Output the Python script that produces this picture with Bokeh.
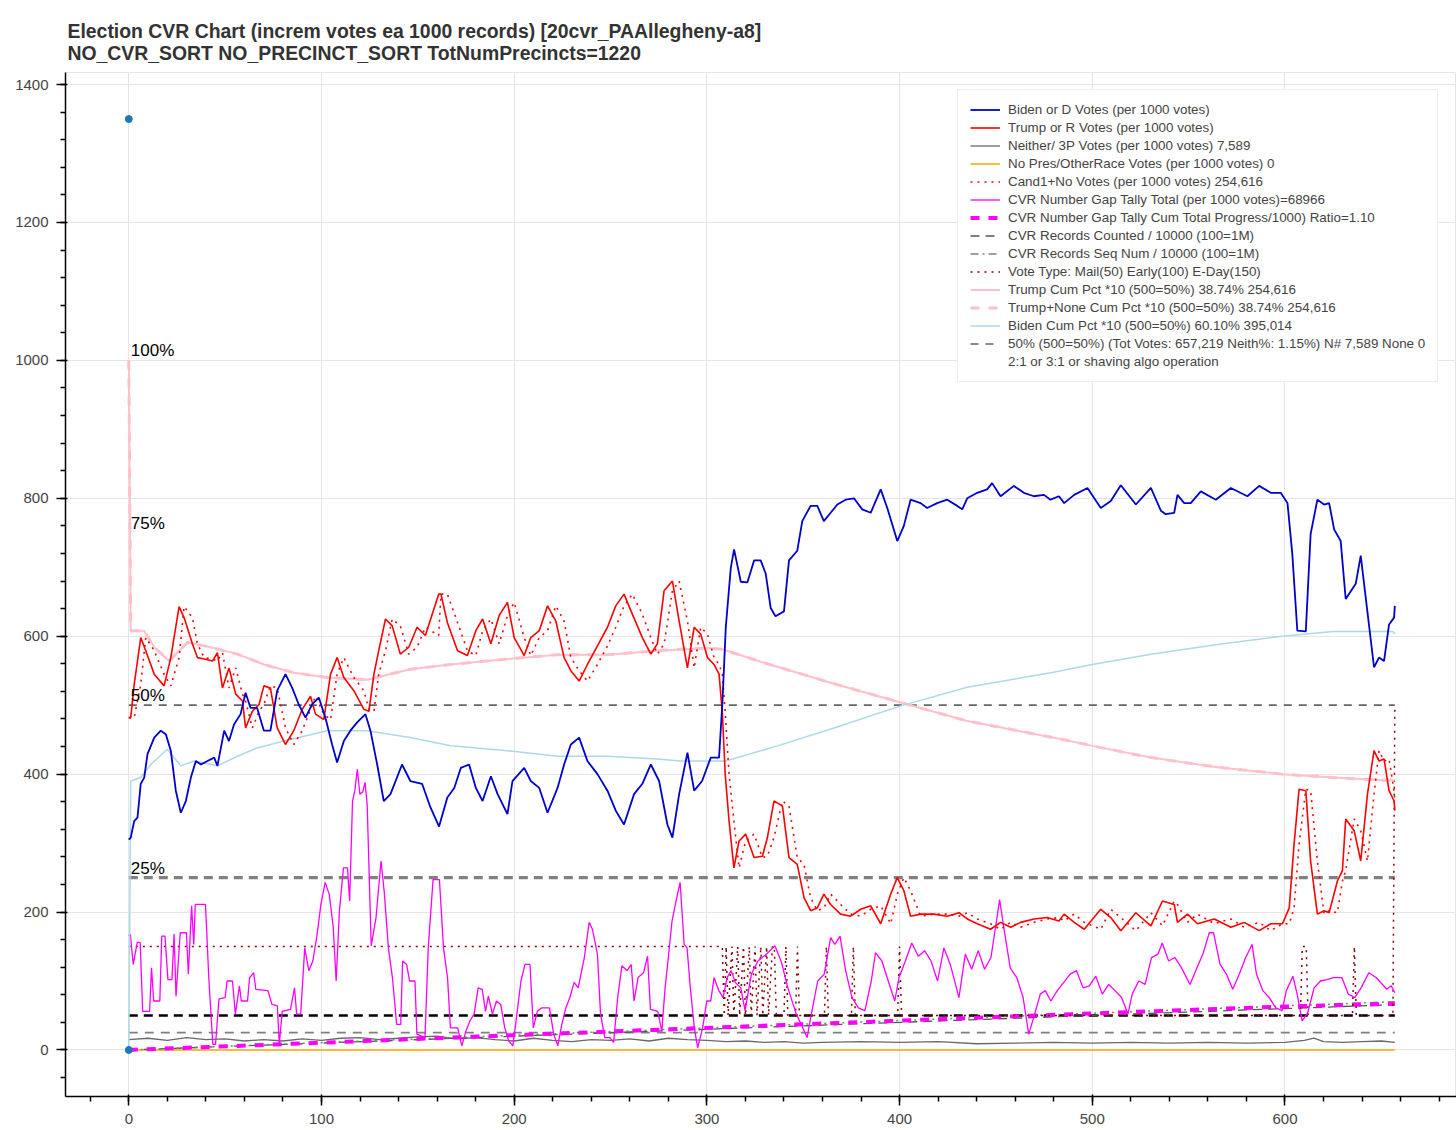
from bokeh.plotting import figure
from bokeh.models import Range1d, Legend, LegendItem
from bokeh.embed import file_html
from bokeh.resources import INLINE
from bokeh.core.properties import value

FONT = "Liberation Sans"

title_text = ("Election CVR Chart (increm votes ea 1000 records) [20cvr_PAAllegheny-a8]\n"
              " NO_CVR_SORT  NO_PRECINCT_SORT  TotNumPrecincts=1220")

# ---------------- data ----------------
biden_pts = [(0,305),(1,308),(2.8,332),(4.5,337),(6.2,386),(8,395),(9.7,429),(13.2,453),(16.6,463),(19.2,458),
 (21.8,434),(24.4,376),(27,344),(29.6,361),(32.2,395),(34.8,419),(37.4,414),(40.8,419),(44.3,424),(46,412),
 (49.5,463),(52,448),(54.6,472),(58,487),(60.6,518),(63.2,496),(66.6,496),(70.1,463),(73.5,463),(77,521),
 (81.3,545),(84.8,525),(88.2,501),(91.7,482),(95.1,501),(98.6,511),(102,482),(105.5,443),(108.1,417),(111.6,448),
 (115,463),(118.5,475),(122.8,487),(125.4,463),(128.9,414),(132.3,361),(135.8,371),(141.8,414),(146.1,390),(152.2,386),
 (156.5,352),(161,324),(165.3,366),(168.9,380),(172.3,409),(176.6,414),(180.1,380),(183.6,361),(187.9,397),(191.4,371),
 (196.5,342),(199.1,390),(205.2,409),(208.6,390),(213,380),(217.3,344),(222.5,380),(225.9,414),(229.4,443),(233.7,453),
 (238,419),(243.2,400),(248.4,376),(252.7,347),(257,327),(262.2,371),(266.5,386),(270.9,414),(275.2,390),(279.5,327),
 (282.1,308),(285.6,371),(289.9,431),(293.4,376),(297.5,390),(302,424),(306.3,424),(308.1,506),(309.8,613),(312.4,699),
 (314.1,726),(317.6,679),(321,678),(324.5,710),(327.9,710),(330.5,691),(333.1,641),(335.6,629),(340,636),(342.6,710),
 (346.9,724),(349.5,767),(353.8,789),(357.3,789),(360.7,767),(364.2,779),(367.7,791),(372,798),(376.3,800),(380.6,784),
 (385,779),(390.2,813),(393.6,786),(398.8,738),(402.2,760),(405.7,798),(410.9,793),(414.3,786),(419.5,793),(424.7,798),
 (429.9,789),(432.5,784),(435.1,800),(440.3,808),(445.4,813),(448,822),(452.4,803),(459.3,818),(464.5,808),(469.7,803),
 (474.9,805),(478.3,798),(482.7,803),(485.4,793),(490.6,805),(497.5,815),(504.4,786),(509.6,796),(514.8,819),(522.6,791),
 (530.4,815),(535.6,782),(538.1,777),(542.5,779),(544.2,805),(547.7,793),(551.1,793),(556.3,810),(564.1,798),(571.9,815),
 (580.5,803),(586.6,818),(592.6,808),(597.8,808),(601.3,793),(603.8,719),(606.4,608),(610.8,607),(613.3,748),(616.8,798),
 (620.3,791),(622.9,793),(625.5,755),(628.9,738),(631.5,654),(636.7,676),(639.3,717),(646.2,555),(648.8,569),(651.4,564),
 (654,617),(656.6,627),(657,644)]

trump_pts = [(0,482),(1,482),(2.8,530),(6.2,598),(8.8,579),(13.2,545),(18.3,528),(21.8,569),(26.1,643),(28.7,627),
 (33,589),(35.6,569),(39.1,567),(43.4,564),(46,576),(48.6,525),(52,554),(55.5,516),(59,506),(60.6,467),
 (64.1,491),(67.6,501),(70.1,528),(73.5,525),(77,467),(81.3,443),(85.6,463),(90,494),(94.3,513),(96.9,487),
 (101.2,479),(104.7,545),(108.1,569),(111.6,540),(116.8,521),(122,494),(124.6,491),(127.2,545),(129.7,579),(133.2,625),
 (136.7,615),(140.9,574),(145.3,584),(149.6,613),(153.9,601),(160.8,661),(162,661),(165.3,620),(170.6,579),(175.7,572),
 (180.1,608),(183.6,625),(187.9,589),(192.2,630),(196.5,649),(200,598),(205.2,572),(208.6,598),(213,608),(217.3,644),
 (221.6,622),(225.9,569),(229.4,550),(233.7,535),(238,559),(243.2,586),(248.4,613),(252.7,644),(257,661),(261.3,632),
 (266.5,598),(270.9,574),(274.3,589),(277.8,666),(282.1,680),(285.6,622),(289.9,554),(293.4,613),(296.8,603),(300.3,569),
 (303.7,559),(306.3,545),(308,490),(309.5,400),(311.5,332),(314,264),(316.7,303),(320.1,313),(324.5,279),(328.8,281),
 (331.4,308),(334.8,361),(339.2,354),(342.6,279),(346.9,269),(350.4,221),(353.8,202),(357.3,206),(360.7,226),(364.2,211),
 (369.4,197),(374.6,194),(379.8,204),(385,209),(390.2,183),(395.4,226),(398.8,250),(402.2,231),(405.7,194),(410.9,197),
 (417.8,197),(424.7,194),(430.8,199),(435.1,190),(440.3,183),(447.2,175),(452.4,185),(457.6,178),(462.8,185),(469.7,190),
 (476.6,192),(482.7,187),(485.4,197),(490.6,185),(495.8,175),(504.4,204),(509.6,192),(514.8,173),(522.6,199),(530.4,180),
 (536.4,216),(542.5,211),(544.2,185),(549.4,197),(554.6,183),(563.3,190),(571.9,178),(578.8,185),(586.6,173),(592.6,183),
 (598.7,183),(602.2,206),(604.7,298),(607.3,378),(610.8,376),(613.3,274),(616.8,197),(620.3,202),(622.9,199),(627.2,245),
 (629.8,260),(631.5,335),(635.9,318),(639.3,274),(642.8,371),(646.2,434),(648.8,419),(651.4,422),(654,376),(656.6,361),
 (657,347)]

cand_pts = [(0,482),(1,482),(2.8,482),(6.2,530),(8.8,598),(13.2,579),(18.3,545),(21.8,528),(26.1,569),(28.7,643),
 (33,627),(35.6,589),(39.1,569),(43.4,567),(46,564),(48.6,576),(52,525),(55.5,554),(59,516),(60.6,506),
 (64.1,467),(67.6,491),(70.1,501),(73.5,528),(77,525),(81.3,467),(85.6,443),(90,463),(94.3,494),(96.9,513),
 (101.2,487),(104.7,479),(108.1,545),(111.6,569),(116.8,540),(122,521),(124.6,494),(127.2,491),(129.7,545),(133.2,579),
 (136.7,625),(140.9,615),(145.3,574),(149.6,584),(153.9,613),(160.8,601),(162,661),(165.3,661),(170.6,620),(175.7,579),
 (180.1,572),(183.6,608),(187.9,625),(192.2,589),(196.5,630),(200,649),(205.2,598),(208.6,572),(213,598),(217.3,608),
 (221.6,644),(225.9,622),(229.4,569),(233.7,550),(238,535),(243.2,559),(248.4,586),(252.7,613),(257,644),(261.3,661),
 (266.5,632),(270.9,598),(274.3,574),(277.8,589),(282.1,666),(285.6,680),(289.9,622),(293.4,554),(296.8,613),(300.3,603),
 (303.7,569),(306.3,559),(308,545),(309.5,490),(311.5,400),(314,332),(316.7,264),(320.1,303),(324.5,313),(328.8,279),
 (331.4,281),(334.8,308),(339.2,361),(342.6,354),(346.9,279),(350.4,269),(353.8,221),(357.3,202),(360.7,206),(364.2,226),
 (369.4,211),(374.6,197),(379.8,194),(385,204),(390.2,209),(395.4,183),(398.8,226),(402.2,250),(405.7,231),(410.9,194),
 (417.8,197),(424.7,197),(430.8,194),(435.1,199),(440.3,190),(447.2,183),(452.4,175),(457.6,185),(462.8,178),(469.7,185),
 (476.6,190),(482.7,192),(485.4,187),(490.6,197),(495.8,185),(504.4,175),(509.6,204),(514.8,192),(522.6,173),(530.4,199),
 (536.4,180),(542.5,216),(544.2,211),(549.4,185),(554.6,197),(563.3,183),(571.9,190),(578.8,178),(586.6,185),(592.6,173),
 (598.7,183),(602.2,183),(604.7,206),(607.3,298),(610.8,378),(613.3,376),(616.8,274),(620.3,197),(622.9,202),(627.2,199),
 (629.8,245),(631.5,260),(635.9,335),(639.3,318),(642.8,274),(646.2,371),(648.8,434),(651.4,419),(654,422),(656.6,376),
 (657,361)]

neither_pts = [(0,15),(10,17),(20,14),(30,18),(40,15),(50,16),(60,13),(70,15),(80,13),(90,16),(100,14),(110,17),
 (120,18),(130,15),(140,17),(150,19),(160,20),(170,16),(180,18),(190,15),(200,13),(210,17),(220,14),(230,12),
 (240,15),(250,14),(260,16),(270,13),(280,17),(290,15),(300,14),(310,12),(320,13),(330,11),(340,12),(350,10),
 (360,11),(380,12),(400,11),(420,12),(440,9),(460,10),(480,11),(500,10),(520,11),(540,10),(560,11),(580,10),
 (600,11),(610,14),(615,17),(620,12),(630,11),(640,12),(650,13),(657,11)]

nopres_pts = [(0,0),(657,0)]

gap_pts = [(0,165),(0.8,168),(2.3,124),(4.4,156),(5.9,156),(7.2,56),(10.8,56),(11.8,119),(12.9,71),(16.1,71),
 (17.1,165),(18.8,165),(20.3,102),(22.4,102),(23.5,168),(24.5,78),(26.7,170),(29.9,170),(30.9,110),(32.6,209),
 (33.7,153),(34.5,211),(39.8,211),(41.5,105),(43.6,8),(45,8),(46.8,74),(50,76),(51,100),(53.8,100),
 (55.3,52),(57.4,93),(58.4,71),(61.6,71),(62.7,105),(64.8,112),(65.9,88),(72.2,86),(74.3,66),(77.1,64),
 (78.1,8),(79.6,56),(83.9,59),(86,90),(87.1,52),(89.2,52),(91.3,148),(93.4,115),(95.5,129),(97.6,165),
 (99.7,211),(101.9,243),(104,226),(106.1,178),(107.6,100),(109.3,202),(111.4,264),(113.5,264),(114.6,216),(116.1,361),
 (117.3,376),(118.6,407),(119.9,371),(121.4,374),(122.6,388),(123.7,356),(125.8,151),(128.3,192),(130.9,274),(132.6,228),
 (134.7,148),(136.8,105),(139,37),(141.1,37),(142.1,129),(144.2,124),(145.7,100),(148.5,100),(149.5,23),(153.7,18),
 (155.4,148),(157.9,247),(161.2,247),(163.3,148),(165.4,105),(166.9,32),(170.7,32),(172.8,6),(174.9,27),(177,42),
 (179.2,52),(181.3,90),(183.4,88),(185.1,56),(186.6,78),(188.7,52),(190.8,71),(193,66),(195.1,32),(197.2,13),
 (199.3,6),(201.4,52),(203.5,100),(205.6,124),(208.2,124),(209.9,32),(212,56),(214.1,61),(218.3,61),(220.5,23),
 (222.6,6),(224.7,37),(226.8,61),(228.9,76),(231.1,98),(233.2,90),(236.4,134),(238.9,185),(240.6,175),(243.2,139),
 (244.8,52),(247,18),(249.5,18),(251.6,11),(253.7,76),(255.9,122),(258.6,115),(260.7,124),(262.2,71),(264.3,105),
 (267.1,112),(269.2,136),(270.7,59),(274.5,56),(276.6,27),(278.3,90),(279.8,129),(281.9,187),(284,216),(286.1,243),
 (288.2,153),(289.7,148),(291.4,90),(293.5,32),(295.2,3),(297.8,32),(299.9,71),(302,71),(303.7,105),(306.2,86),
 (308.4,76),(310.5,105),(312.6,115),(314.7,98),(317.6,90),(319.8,57),(323.1,110),(326.5,129),(330.9,139),(335.3,151),
 (338.7,127),(342,90),(346.4,52),(349.8,32),(352,18),(354.2,52),(357.5,100),(360.9,110),(364.2,163),(366.4,153),
 (369.1,165),(372,115),(375.3,76),(378.6,61),(382,57),(385.3,100),(387.5,141),(390.8,129),(394.1,100),(397.5,71),
 (399.7,105),(403,129),(406.3,155),(409.7,136),(413,144),(416.3,129),(419.7,100),(423,148),(426.3,124),(430.8,76),
 (434.1,139),(437.4,117),(440.8,144),(444.1,117),(447.4,134),(450.8,197),(451.9,218),(454.1,177),(457.4,119),(460.8,105),
 (464.1,76),(467,23),(469.6,47),(473,81),(475.6,86),(478.5,71),(481.8,86),(485.2,98),(488.5,110),(491.8,115),
 (495.2,90),(498.5,93),(501.8,107),(505.2,81),(508.5,95),(511.8,86),(515.2,76),(518.5,52),(520.7,81),(524.1,100),
 (527.4,95),(530.7,134),(534.1,139),(536.3,155),(539.6,129),(542.9,134),(546.3,119),(550.7,95),(554,117),(557.4,139),
 (560.7,170),(562.9,170),(566.3,124),(569.6,110),(572.9,88),(576.3,110),(579.6,134),(582.9,153),(585.2,110),(588.5,86),
 (591.8,76),(595.2,61),(598.5,57),(600.7,86),(604.1,107),(606.3,81),(608.9,42),(611.8,54),(615.1,90),(618.4,100),
 (621.7,102),(625.1,105),(629.5,105),(632.8,81),(636.2,76),(639.5,90),(643.5,112),(647.3,105),(650.6,95),(652.8,88),
 (655.1,93),(657,83)]

gap_cum_pts = [(0,0),(100,10.5),(200,21.5),(300,32),(400,42.5),(500,53),(600,63),(657,67)]
rec_counted_pts = [(0,0),(657,65.7)]
rec_seq_pts = [(0,0),(657,70)]

vote_type_pts = [(0,150),(308,150),(309,50),(310,150),(311,50),(313,150),(314,50),(316,150),(317,50),(319,150),
 (320,50),(322,150),(323,50),(325,150),(326,50),(328,150),(329,50),(331,150),(332,50),(334,150),(335,150),(336,50),
 (340,50),(341,150),(342,50),(346,50),(347,150),(348,50),(361,50),(362,150),(363,50),(375,50),(376,150),(377,50),
 (399,50),(400,150),(401,50),(608,50),(609,150),(611,150),(612,50),(635,50),(636,150),(637,50),(656,50),(657,500)]

trump_cum_pts = [(0,1000),(1,608),(7.9,608),(13.2,584),(20.9,564),(30.5,591),(42.5,584),(56.4,574),(70.2,559),
 (85.8,547),(103,540),(123.8,537),(146,552),(167,559),(196.5,567),(222.5,573),(248.4,573),(274.3,579),(300.3,583),
 (308,581),(331.4,560),(366,531),(400.6,504),(435.1,477),(483.5,451),(500,441),(530.4,424),(565,410),(598.7,400),
 (625,395),(651.4,391),(657,391)]
trump_none_cum_pts = trump_cum_pts

biden_cum_pts = [(0,0),(1,390),(6.2,395),(11.4,414),(20,436),(27,412),(34,419),(46,412),(56.4,426),(66.6,438),
 (80.5,448),(91,455),(103,463),(123.8,463),(146,453),(167,441),(196.5,434),(222.5,426),(248.4,426),(274.3,422),
 (286.4,419),(309.8,419),(336.6,441),(366,467),(400.6,499),(435.1,526),(478.5,547),(500,559),(530.4,574),(565,588),
 (598.7,600),(625,607),(642.3,607),(656,607),(657,603)]

level_x = [0, 657]
level_50pct = [500, 500]
level_25pct = [250, 250]
level_black = [50, 50]
level_gray = [25, 25]

dot_x = [0, 0]
dot_y = [1350, 0]

pct_x = [0, 0, 0, 0]
pct_y = [1000, 750, 500, 250]
pct_labels = ["100%", "75%", "50%", "25%"]

legend_labels = [
    "Biden or D Votes (per 1000 votes)",
    "Trump or R Votes (per 1000 votes)",
    "Neither/ 3P Votes (per 1000 votes) 7,589",
    "No Pres/OtherRace Votes (per 1000 votes) 0",
    "Cand1+No Votes (per 1000 votes) 254,616",
    "CVR Number Gap Tally Total (per 1000 votes)=68966",
    "CVR Number Gap Tally Cum Total Progress/1000) Ratio=1.10",
    "CVR Records Counted / 10000 (100=1M)",
    "CVR Records Seq Num / 10000 (100=1M)",
    "Vote Type: Mail(50) Early(100) E-Day(150)",
    "Trump Cum Pct *10 (500=50%) 38.74% 254,616",
    "Trump+None Cum Pct *10 (500=50%) 38.74% 254,616",
    "Biden Cum Pct *10 (500=50%) 60.10% 395,014",
    "50% (500=50%) (Tot Votes: 657,219 Neith%: 1.15%) N# 7,589 None 0",
    "2:1 or 3:1 or shaving algo operation",
]


def xs(pts):
    return [a for a, b in pts]


def ys(pts):
    return [b for a, b in pts]


p = figure(width=1456, height=1130,
           x_range=Range1d(-32.85, 689.0), y_range=Range1d(-67.5, 1417.5),
           output_backend="svg", toolbar_location=None,
           min_border_left=65, min_border_right=0, min_border_top=72, min_border_bottom=34)

p.title.text = title_text
p.title.text_font = FONT
p.title.text_font_size = "19.4px"
p.title.text_font_style = "bold"
p.title.text_color = "#333333"
p.title.offset = 2
p.title.standoff = 17

for ax in (p.xaxis[0], p.yaxis[0]):
    ax.major_label_text_font = FONT
    ax.major_label_text_font_size = "15px"
    ax.major_label_text_color = "#444444"
    ax.axis_line_width = 1.5
    ax.major_tick_line_width = 1.5
    ax.minor_tick_line_width = 1.5
    ax.major_tick_out = 9
    ax.major_tick_in = 2
    ax.minor_tick_out = 5
    ax.minor_tick_in = 0
p.xaxis[0].major_label_standoff = 8
p.yaxis[0].major_label_standoff = 8

# reference levels
r_50 = p.line(level_x, level_50pct, line_color="#666666", line_width=1.6, line_dash="8 7")
p.line(level_x, level_25pct, line_color="gray", line_width=3.2, line_dash="9 6")
p.line(level_x, level_black, line_color="black", line_width=2.6, line_dash="9 6")
p.line(level_x, level_gray, line_color="gray", line_width=1.8, line_dash="9 7")

r_nopres = p.line(xs(nopres_pts), ys(nopres_pts), line_color="orange", line_width=1.5)
r_neither = p.line(xs(neither_pts), ys(neither_pts), line_color="dimgray", line_width=1.3)
r_rec = p.line(xs(rec_counted_pts), ys(rec_counted_pts), line_color="#555555", line_width=1.3, line_dash="9 6")
r_seq = p.line(xs(rec_seq_pts), ys(rec_seq_pts), line_color="gray", line_width=1.5, line_dash="8 4 2 4")
r_gapcum = p.line(xs(gap_cum_pts), ys(gap_cum_pts), line_color="magenta", line_width=4, line_dash="9 9")
r_vote = p.line(xs(vote_type_pts), ys(vote_type_pts), line_color="darkred", line_width=1.5, line_dash="2 5")
r_gap = p.line(xs(gap_pts), ys(gap_pts), line_color="magenta", line_width=1.3)
r_tcum = p.line(xs(trump_cum_pts), ys(trump_cum_pts), line_color="pink", line_width=2)
r_tncum = p.line(xs(trump_none_cum_pts), ys(trump_none_cum_pts), line_color="pink", line_width=3, line_dash="9 9")
r_bcum = p.line(xs(biden_cum_pts), ys(biden_cum_pts), line_color="lightblue", line_width=1.5)
r_cand = p.line(xs(cand_pts), ys(cand_pts), line_color="red", line_width=1.6, line_dash="2 5")
r_trump = p.line(xs(trump_pts), ys(trump_pts), line_color="red", line_width=1.6)
r_biden = p.line(xs(biden_pts), ys(biden_pts), line_color="mediumblue", line_width=1.8)
r_blank = p.line([], [], line_alpha=0)

p.scatter(dot_x, dot_y, size=7, color="#1f77b4")
p.text(x=pct_x, y=pct_y, text=pct_labels, text_font=value(FONT), text_font_size="17px",
       text_color="black", text_baseline="bottom", x_offset=2)

renderers = [r_biden, r_trump, r_neither, r_nopres, r_cand, r_gap, r_gapcum, r_rec, r_seq,
             r_vote, r_tcum, r_tncum, r_bcum, r_50, r_blank]
items = [LegendItem(label=lab, renderers=[r]) for lab, r in zip(legend_labels, renderers)]
legend = Legend(items=items, location=(892, 714))
legend.label_text_font = FONT
legend.label_text_font_size = "13.4px"
legend.label_text_color = "#444444"
legend.glyph_width = 30
legend.glyph_height = 15
legend.label_height = 15
legend.spacing = 3
legend.padding = 12
legend.label_standoff = 8
legend.border_line_color = "#dddddd"
legend.background_fill_alpha = 1.0
p.add_layout(legend)

open("out.html", "w").write(file_html(p, INLINE))
